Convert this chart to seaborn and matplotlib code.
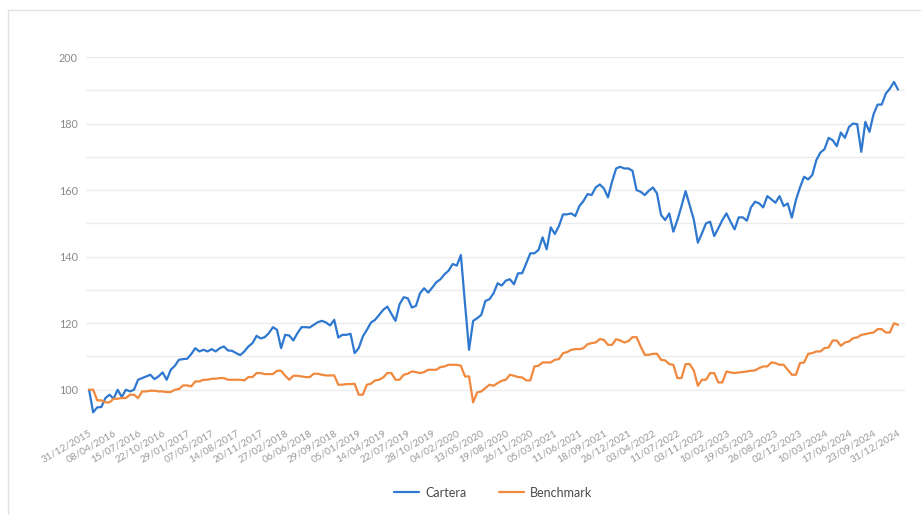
import numpy as np
import pandas as pd
import matplotlib
matplotlib.use("Agg")
import matplotlib.pyplot as plt
import seaborn as sns

# Values (one point roughly every two weeks)
cartera = [
    100, 93.2, 94.7, 94.8, 97.5, 98.5, 97.3, 100, 97.8, 100,
    99.5, 100, 103, 103.5, 104, 104.5, 103.2, 104, 105.2, 103,
    106, 107.2, 109, 109.2, 109.3, 110.7, 112.5, 111.5, 112, 111.5,
    112.2, 111.5, 112.5, 113, 111.8, 111.7, 111, 110.4, 111.5, 113,
    114, 116.2, 115.4, 115.8, 117, 118.8, 118, 112.5, 116.5, 116.3,
    114.8, 117, 118.8, 118.8, 118.7, 119.5, 120.3, 120.7, 120.2, 119.3,
    121, 115.7, 116.5, 116.5, 116.8, 111, 112.5, 116, 118, 120.2,
    121, 122.5, 124, 125, 122.8, 120.7, 125.7, 127.8, 127.5, 124.7,
    125.2, 129, 130.5, 129.2, 130.7, 132.3, 133.2, 134.7, 135.8, 137.8,
    137.3, 140.5, 126, 112, 120.7, 121.5, 122.5, 126.7, 127.2, 129,
    132, 131.3, 132.8, 133.2, 131.7, 135, 135, 138, 141, 141,
    142, 145.8, 142.2, 148.8, 146.8, 149.2, 152.7, 152.7, 153, 152.2,
    155.2, 156.7, 158.8, 158.5, 160.8, 161.7, 160.5, 157.8, 162.5, 166.5,
    167, 166.5, 166.5, 165.8, 160, 159.5, 158.5, 159.8, 160.8, 159,
    152.5, 151, 153, 147.5, 151, 155.2, 159.7, 155.5, 151.2, 144.2,
    147, 150, 150.5, 146.2, 148.5, 151, 153, 150.5, 148.2, 151.8,
    151.8, 150.8, 154.8, 156.5, 156, 154.8, 158.2, 157.2, 156.2, 158.2,
    155.2, 156, 151.7, 157, 160.8, 164, 163.2, 164.5, 169, 171.3,
    172.3, 175.7, 175, 173.2, 177.3, 175.7, 179, 180, 179.8, 171.5,
    180.5, 177.5, 182.8, 185.7, 185.7, 189, 190.5, 192.5, 190.2,
]

benchmark = [
    100, 100, 96.8, 96.8, 96.2, 96.2, 97.3, 97.3, 97.5, 97.5,
    98.5, 98.5, 97.5, 99.5, 99.5, 99.7, 99.7, 99.5, 99.5, 99.3,
    99.3, 100, 100.2, 101.3, 101.3, 101, 102.5, 102.5, 103, 103,
    103.3, 103.3, 103.5, 103.5, 103, 103, 103, 103, 102.8, 103.8,
    103.8, 105, 105, 104.7, 104.7, 104.7, 105.7, 105.7, 104.2, 103,
    104.2, 104.2, 104, 103.8, 103.8, 104.8, 104.8, 104.5, 104.3, 104.3,
    104.3, 101.5, 101.5, 101.7, 101.7, 101.8, 98.5, 98.5, 101.5, 101.8,
    102.8, 103, 103.7, 105, 105, 103, 103, 104.5, 104.8, 105.5,
    105.3, 105, 105.3, 106, 106, 106, 106.8, 107, 107.5, 107.5,
    107.5, 107.2, 104, 104, 96.2, 99.2, 99.5, 100.5, 101.5, 101.2,
    102, 102.7, 103, 104.5, 104.2, 103.8, 103.7, 102.8, 102.8, 107,
    107.2, 108.2, 108.2, 108.2, 109, 109.2, 111, 111.3, 112, 112.2,
    112.2, 112.5, 113.7, 114, 114.2, 115.2, 115, 113.5, 113.5, 115.2,
    114.8, 114.2, 114.6, 115.8, 115.8, 113, 110.5, 110.5, 110.8, 110.8,
    109, 108.8, 107.7, 107.5, 103.5, 103.5, 107.7, 107.7, 105.8, 101.2,
    103, 103, 105, 105, 102.2, 102.2, 105.5, 105.2, 105, 105.2,
    105.3, 105.5, 105.7, 105.8, 106.5, 107, 107, 108.2, 108, 107.5,
    107.5, 106, 104.5, 104.5, 108, 108.2, 110.8, 111, 111.5, 111.5,
    112.5, 112.7, 114.8, 114.8, 113.2, 114.2, 114.5, 115.5, 115.7, 116.5,
    116.7, 117, 117.2, 118.2, 118.2, 117.2, 117.2, 120, 119.5,
]

tick_labels = [
    "31/12/2015", "08/04/2016", "15/07/2016", "22/10/2016", "29/01/2017",
    "07/05/2017", "14/08/2017", "20/11/2017", "27/02/2018", "06/06/2018",
    "29/09/2018", "05/01/2019", "14/04/2019", "22/07/2019", "28/10/2019",
    "04/02/2020", "13/05/2020", "19/08/2020", "26/11/2020", "05/03/2021",
    "11/06/2021", "18/09/2021", "26/12/2021", "03/04/2022", "11/07/2022",
    "03/11/2022", "10/02/2023", "19/05/2023", "26/08/2023", "02/12/2023",
    "10/03/2024", "17/06/2024", "23/09/2024", "31/12/2024",
]

df = pd.DataFrame({"idx": np.arange(len(cartera)),
                   "Cartera": cartera,
                   "Benchmark": benchmark})
long_df = df.melt(id_vars="idx", var_name="serie", value_name="valor")

sns.set_theme(style="white")
plt.rcParams["font.family"] = ["Lato", "DejaVu Sans"]

fig = plt.figure(figsize=(9.21, 5.15), dpi=100)
ax = fig.add_axes([86 / 921, 1 - 423 / 515, 819 / 921, 366 / 515])

sns.lineplot(data=long_df, x="idx", y="valor", hue="serie",
             palette={"Cartera": "#2f78d0", "Benchmark": "#f0883e"},
             linewidth=1.6, ax=ax, legend=True)

ax.set_xlim(-0.75, len(cartera) - 1 + 1.7)
ax.set_ylim(90, 200)
ax.set_yticks(range(100, 201, 20))
ax.set_yticks(range(90, 201, 10), minor=True)
ax.grid(True, which="both", axis="y", color="#ececec", linewidth=1)
ax.set_axisbelow(True)

ax.set_xticks(range(0, len(cartera), 6))
ax.set_xticklabels(tick_labels, rotation=30, ha="right", rotation_mode="anchor")
ax.tick_params(axis="x", labelsize=7.3, colors="#9a9a9a", length=0, pad=4)
ax.tick_params(axis="y", which="both", labelsize=7.8, colors="#8a8a8a", length=0, pad=6)
ax.set_xlabel("")
ax.set_ylabel("")
for s in ax.spines.values():
    s.set_visible(False)

handles, labels = ax.get_legend_handles_labels()
ax.legend(handles, labels, loc="center", bbox_to_anchor=(0.497, -0.19),
          ncol=2, frameon=False, fontsize=9, handlelength=2.0,
          handletextpad=0.5, columnspacing=2.6, labelcolor="#4a4a4a")

# light card border
fig.add_artist(plt.Line2D([8 / 921, 8 / 921], [0, 1 - 10 / 515], color="#e2e2e2", linewidth=1))
fig.add_artist(plt.Line2D([8 / 921, 1], [1 - 10 / 515, 1 - 10 / 515], color="#e2e2e2", linewidth=1))

fig.savefig("out.png", dpi=100)
